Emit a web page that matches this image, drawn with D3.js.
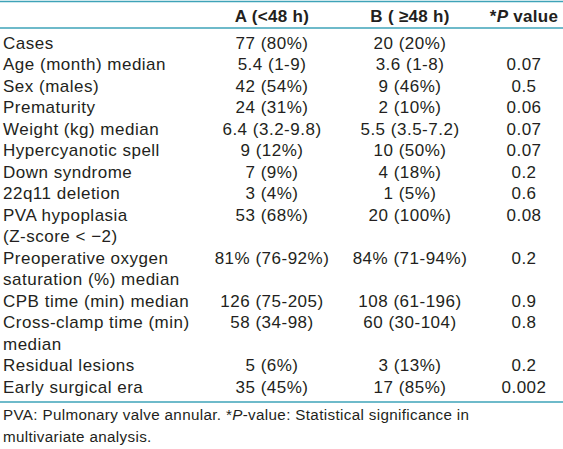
<!DOCTYPE html>
<html>
<head>
<meta charset="utf-8">
<script src="https://cdn.jsdelivr.net/npm/d3@7"></script>
<style>
  html, body { margin: 0; padding: 0; background: #fff; }
  svg { display: block; }
  text { font-family: "Liberation Sans", Arial, Helvetica, sans-serif; fill: #231f20; }
</style>
</head>
<body>
<svg id="chart" width="563" height="449"></svg>
<script>
// ---- data ----
const columns = ["label", "A", "B", "P"];
const headerA = "A (<48 h)";
const headerB = "B ( \u226548 h)";
const rowLabels = [
  ["Cases"],
  ["Age (month) median"],
  ["Sex (males)"],
  ["Prematurity"],
  ["Weight (kg) median"],
  ["Hypercyanotic spell"],
  ["Down syndrome"],
  ["22q11 deletion"],
  ["PVA hypoplasia", "(Z-score < \u22122)"],
  ["Preoperative oxygen", "saturation (%) median"],
  ["CPB time (min) median"],
  ["Cross-clamp time (min)", "median"],
  ["Residual lesions"],
  ["Early surgical era"]
];
const groupA = ["77 (80%)", "5.4 (1-9)", "42 (54%)", "24 (31%)", "6.4 (3.2-9.8)", "9 (12%)", "7 (9%)", "3 (4%)", "53 (68%)", "81% (76-92%)", "126 (75-205)", "58 (34-98)", "5 (6%)", "35 (45%)"];
const groupB = ["20 (20%)", "3.6 (1-8)", "9 (46%)", "2 (10%)", "5.5 (3.5-7.2)", "10 (50%)", "4 (18%)", "1 (5%)", "20 (100%)", "84% (71-94%)", "108 (61-196)", "60 (30-104)", "3 (13%)", "17 (85%)"];
const pValues = ["", "0.07", "0.5", "0.06", "0.07", "0.07", "0.2", "0.6", "0.08", "0.2", "0.9", "0.8", "0.2", "0.002"];
const footnoteLines = [
  [["PVA: Pulmonary valve annular. *", false], ["P", true], ["-value: Statistical significance in", false]],
  [["multivariate analysis.", false]]
];

// ---- layout ----
const svg = d3.select("#chart");
const ruleColor = "#3ea3b8";
const xCol = d3.scaleOrdinal().domain(columns).range([3, 272, 410, 524]);

let idx = 0;
const rowStart = rowLabels.map(l => { const s = idx; idx += l.length; return s; });
const totalLines = idx;
const y = d3.scaleLinear().domain([0, totalLines - 1]).range([48.5, 393]);

// rules
const rules = [1.5, 28, 402];
svg.selectAll("line.rule").data(rules).join("line")
  .attr("class", "rule")
  .attr("x1", 0).attr("x2", 563)
  .attr("y1", d => d).attr("y2", d => d)
  .attr("stroke", ruleColor).attr("stroke-width", 1.6);

// header
const header = svg.append("g").style("font-weight", "bold").style("font-size", "17px")
  .style("letter-spacing", "0.3px");
header.append("text").attr("x", xCol("A")).attr("y", 21.5).attr("text-anchor", "middle").text(headerA);
header.append("text").attr("x", xCol("B")).attr("y", 21.5).attr("text-anchor", "middle").text(headerB);
const ph = header.append("text").attr("x", xCol("P")).attr("y", 21.5).attr("text-anchor", "middle");
ph.append("tspan").text("*");
ph.append("tspan").style("font-style", "italic").text("P");
ph.append("tspan").text(" value");

// body
const body = svg.append("g").style("font-size", "17px").style("letter-spacing", "0.5px");
rowLabels.forEach((lines, i) => {
  lines.forEach((t, k) => {
    body.append("text").attr("x", xCol("label")).attr("y", y(rowStart[i] + k)).text(t);
  });
  body.append("text").attr("x", xCol("A")).attr("y", y(rowStart[i])).attr("text-anchor", "middle").text(groupA[i]);
  body.append("text").attr("x", xCol("B")).attr("y", y(rowStart[i])).attr("text-anchor", "middle").text(groupB[i]);
  body.append("text").attr("x", xCol("P")).attr("y", y(rowStart[i])).attr("text-anchor", "middle").text(pValues[i]);
});

// footnote
const foot = svg.append("g").style("font-size", "15.2px").style("letter-spacing", "0.35px");
footnoteLines.forEach((parts, k) => {
  const t = foot.append("text").attr("x", 3).attr("y", 420 + k * 21.5);
  parts.forEach(([s, it]) => t.append("tspan").style("font-style", it ? "italic" : null).text(s));
});
</script>
</body>
</html>
